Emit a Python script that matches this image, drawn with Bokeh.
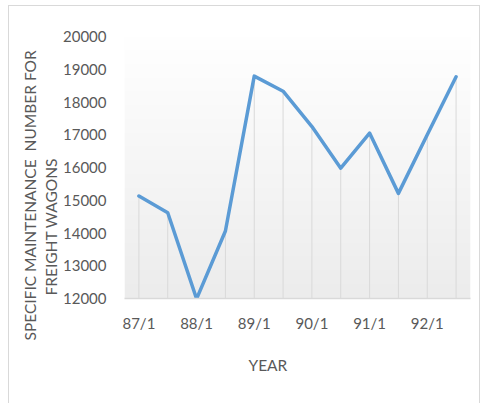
import numpy as np
from bokeh.plotting import figure
from bokeh.models import FixedTicker, Title
from bokeh.embed import file_html
from bokeh.resources import INLINE

periods = ["87/1", "87/7", "88/1", "88/7", "89/1", "89/7", "90/1", "90/7", "91/1", "91/7", "92/1", "92/7"]
maintenance = [15130, 14620, 11990, 14060, 18790, 18330, 17250, 15980, 17050, 15210, 17000, 18770]
tick_labels = ["87/1", "88/1", "89/1", "90/1", "91/1", "92/1"]
y_ticks = [12000, 13000, 14000, 15000, 16000, 17000, 18000, 19000, 20000]

FONT = "Lato"
GREY = "#595959"

xs = list(range(len(periods)))

p = figure(width=472, height=398, output_backend="svg", toolbar_location=None,
           x_range=(-0.5, len(periods) - 0.5), y_range=(12000, 20000),
           min_border_left=115, min_border_right=11, min_border_top=30, min_border_bottom=106)
p.styles = {"border-left": "1px solid #d9d9d9", "border-top": "1px solid #d9d9d9",
            "border-right": "1px solid #d9d9d9", "margin-left": "8px", "margin-top": "5px"}
p.outline_line_color = None
p.background_fill_color = "white"
p.border_fill_color = "white"
p.grid.visible = False

# gradient plot background
n = 200
shade = np.linspace(236, 255, n)
img = np.zeros((n, 1), dtype=np.uint32)
view = img.view(dtype=np.uint8).reshape((n, 1, 4))
view[:, 0, 0] = shade.astype(np.uint8)
view[:, 0, 1] = shade.astype(np.uint8)
view[:, 0, 2] = shade.astype(np.uint8)
view[:, 0, 3] = 255
p.image_rgba(image=[img], x=-0.5, y=12000, dw=len(periods), dh=8000)

# drop lines
p.segment(x0=xs, y0=[12000] * len(xs), x1=xs, y1=maintenance, line_color="#d9d9d9", line_width=1)

p.line(xs, maintenance, line_color="#5b9bd5", line_width=3.5, line_join="round", line_cap="round")

# y axis
p.yaxis.ticker = FixedTicker(ticks=y_ticks)
p.yaxis.axis_line_color = None
p.yaxis.major_tick_line_color = None
p.yaxis.minor_tick_line_color = None
p.yaxis.major_tick_out = 0
p.yaxis.major_label_standoff = 18
p.yaxis.major_label_text_font = FONT
p.yaxis.major_label_text_font_size = "15px"
p.yaxis.major_label_text_color = GREY

# x axis
p.xaxis.ticker = FixedTicker(ticks=[periods.index(t) for t in tick_labels])
p.xaxis.major_label_overrides = {periods.index(t): t for t in tick_labels}
p.xaxis.axis_line_color = "#d9d9d9"
p.xaxis.axis_line_width = 1.5
p.xaxis.major_tick_line_color = None
p.xaxis.minor_tick_line_color = None
p.xaxis.major_tick_out = 0
p.xaxis.major_label_standoff = 15
p.xaxis.major_label_text_font = FONT
p.xaxis.major_label_text_font_size = "15px"
p.xaxis.major_label_text_color = GREY

# axis titles
def mk(text, **kw):
    return Title(text=text, align="left", text_font=FONT, text_font_size="15.5px",
                 text_font_style="normal", text_color=GREY, **kw)

p.add_layout(mk("FREIGHT WAGONS", offset=3, standoff=2), "left")
p.add_layout(mk("SPECIFIC MAINTENANCE\u00a0 NUMBER FOR", offset=-42, standoff=0), "left")
p.add_layout(mk("YEAR", offset=124, standoff=39), "below")

open("out.html", "w").write(file_html(p, INLINE))
